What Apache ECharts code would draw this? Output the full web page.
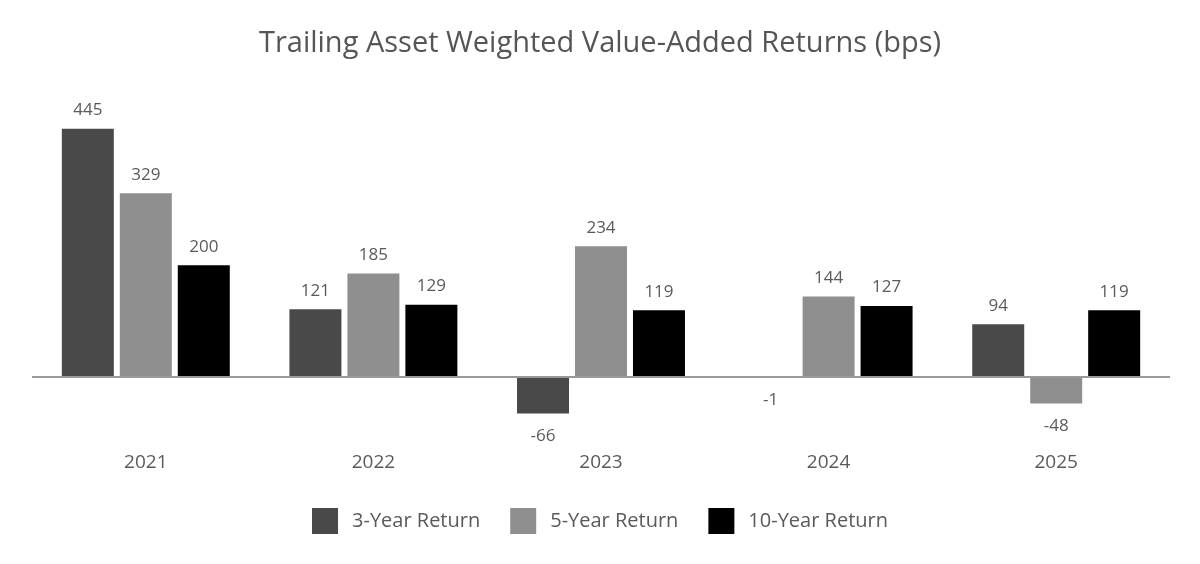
<!DOCTYPE html>
<html>
<head>
<meta charset="utf-8">
<script src="https://cdn.jsdelivr.net/npm/echarts@6/dist/echarts.min.js"></script>
<style>
  html, body { margin: 0; padding: 0; background: #fff; }
  #chart { width: 1200px; height: 564px; }
</style>
</head>
<body>
<div id="chart"></div>
<script>
// data
var years = ['2021', '2022', '2023', '2024', '2025'];
var seriesNames = ['3-Year Return', '5-Year Return', '10-Year Return'];
var threeYear = [445, 121, -66, -1, 94];
var fiveYear = [329, 185, 234, 144, -48];
var tenYear = [200, 129, 119, 127, 119];
var colors = ['#494949', '#8f8f8f', '#000000'];

var font = '"Open Sans", "Noto Sans", sans-serif';

// negative bars get their label underneath
function withLabels(vals) {
  return vals.map(function (v) {
    return {
      value: v,
      label: { position: v < 0 ? 'bottom' : 'top', distance: v < 0 ? 14 : 10 }
    };
  });
}

function makeSeries(name, vals, color, idx) {
  var s = {
    name: name,
    type: 'bar',
    data: withLabels(vals),
    barWidth: 52,
    barGap: '11.5%',
    itemStyle: { color: color },
    label: {
      show: true,
      color: '#5a5a5a',
      fontSize: 17,
      fontFamily: font
    }
  };
  if (idx === 0) {
    s.markLine = {
      silent: true,
      symbol: 'none',
      label: { show: false },
      lineStyle: { color: '#999', width: 2, type: 'solid' },
      data: [{ yAxis: 0 }]
    };
  }
  return s;
}

var chart = echarts.init(document.getElementById('chart'));
var option = {
  backgroundColor: '#fff',
  animation: false,
  color: colors,
  title: {
    text: 'Trailing Asset Weighted Value-Added Returns (bps)',
    left: 'center',
    top: 24,
    textStyle: { color: '#555', fontSize: 29, fontWeight: 'normal', fontFamily: font }
  },
  legend: {
    data: seriesNames,
    left: 'center',
    top: 503,
    itemWidth: 26,
    itemHeight: 26,
    itemGap: 30,
    icon: 'rect',
    textStyle: { color: '#5a5a5a', fontSize: 20, fontFamily: font, padding: [0, 0, 0, 9] }
  },
  grid: { left: 32, right: 30, top: 98, bottom: 126 },
  xAxis: {
    type: 'category',
    data: years,
    axisLine: { show: false, onZero: false },
    axisTick: { show: false },
    axisLabel: { color: '#5a5a5a', fontSize: 19, fontFamily: font, margin: 15 }
  },
  yAxis: {
    type: 'value',
    min: -110,
    max: 500,
    show: false,
    splitLine: { show: false }
  },
  series: [
    makeSeries(seriesNames[0], threeYear, colors[0], 0),
    makeSeries(seriesNames[1], fiveYear, colors[1], 1),
    makeSeries(seriesNames[2], tenYear, colors[2], 2)
  ]
};
chart.setOption(option);
</script>
</body>
</html>
